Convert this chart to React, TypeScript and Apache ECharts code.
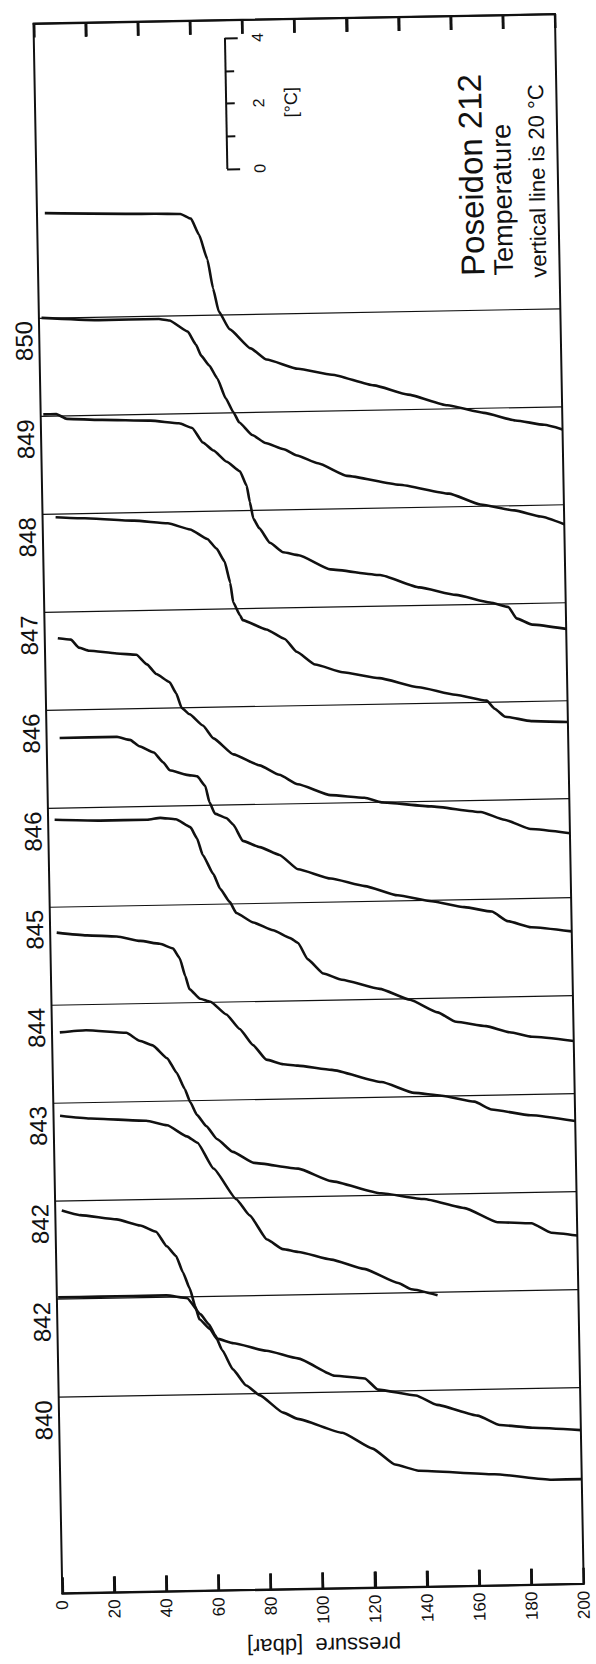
import React, { useEffect, useRef } from "react";
import * as echarts from "echarts";

// Station names, top to bottom as printed on the figure
const STATIONS = ["850", "849", "848", "847", "846", "846", "845", "844", "843", "842", "842", "840"];

// Temperature profiles: pressure [dbar] and temperature [°C]
const p850 = [3, 45, 55, 59, 62, 65, 67, 69, 73, 81, 87, 99, 112, 128, 141, 156, 170, 182, 193, 200];
const t850 = [23.2, 23.12, 23.1, 22.95, 22.45, 21.7, 20.8, 20.1, 19.55, 18.95, 18.6, 18.3, 18.1, 17.75, 17.45, 17.1, 16.85, 16.6, 16.45, 16.3];

const p849 = [1, 23, 46, 50, 57, 60, 62, 65, 68, 71, 74, 76, 81, 86, 93, 98, 106, 117, 137, 156, 168, 181, 191, 200];
const t849 = [23.0, 22.9, 22.9, 22.85, 22.5, 22.1, 21.75, 21.45, 21.05, 20.45, 20.0, 19.7, 19.3, 19.05, 18.85, 18.65, 18.4, 18.0, 17.7, 17.4, 17.05, 16.85, 16.65, 16.4];

const p848 = [1, 6, 10, 23, 42, 53, 58, 62, 66, 71, 76, 78.5, 79.6, 80.8, 83, 87, 92, 98, 110, 129, 144, 158, 171, 178, 181, 187, 200];
const t848 = [23.05, 23.05, 22.9, 22.85, 22.8, 22.7, 22.55, 22.1, 21.85, 21.5, 21.2, 20.75, 20.25, 19.75, 19.45, 19.0, 18.7, 18.6, 18.15, 17.95, 17.55, 17.3, 17.05, 16.9, 16.55, 16.35, 16.2];

const p847 = [5, 16, 35, 48, 56.5, 63, 66.5, 69.5, 71.5, 72.5, 75, 76, 85, 92, 96.5, 103.5, 114, 128, 143, 157, 169, 172, 176, 186, 200];
const t847 = [22.9, 22.85, 22.75, 22.65, 22.45, 22.15, 21.85, 21.45, 20.8, 20.2, 19.8, 19.65, 19.35, 19.05, 18.65, 18.25, 18.0, 17.8, 17.5, 17.25, 17.05, 16.8, 16.55, 16.4, 16.35];

const p846a = [5, 10, 13, 17, 27.5, 35, 39, 42.5, 47.5, 50, 52, 55, 60, 64, 71.5, 81.5, 89, 96, 108.5, 121.5, 128, 147, 166, 175, 185, 200];
const t846a = [22.2, 22.15, 21.9, 21.8, 21.7, 21.65, 21.35, 21.05, 20.8, 20.45, 20.0, 19.8, 19.45, 19.05, 18.55, 18.2, 17.9, 17.6, 17.25, 17.15, 17.0, 16.85, 16.65, 16.4, 16.1, 15.95];

const p846b = [5, 27, 32, 35.5, 41, 44.5, 47, 53.5, 57.5, 60.5, 62, 64, 68.5, 71, 74.5, 81, 88.5, 95.5, 108, 121, 133.5, 146.5, 159, 169.5, 175.5, 184.5, 200];
const t846b = [22.15, 22.15, 22.05, 21.85, 21.65, 21.35, 21.1, 20.95, 20.9, 20.6, 20.1, 19.75, 19.6, 19.4, 18.9, 18.7, 18.45, 18.0, 17.7, 17.45, 17.15, 16.95, 16.75, 16.6, 16.3, 16.1, 15.95];

const p845 = [2.5, 20, 38, 43, 49, 54.5, 57, 59, 63, 65.5, 69, 71.5, 78, 85.5, 92, 95, 98.5, 104.5, 111.5, 126, 137.5, 148, 155, 166.5, 175.5, 184, 200];
const t845 = [22.65, 22.6, 22.6, 22.65, 22.6, 22.35, 22.0, 21.5, 20.9, 20.45, 20.05, 19.7, 19.4, 19.15, 18.9, 18.75, 18.25, 17.8, 17.6, 17.3, 16.95, 16.55, 16.25, 16.1, 15.9, 15.75, 15.6];

const p844 = [2.5, 14, 25.5, 34.5, 42, 47, 49.5, 51.5, 53, 57, 61, 67, 72, 77, 82, 88.5, 94, 107, 126, 138.5, 149, 161.5, 168, 183, 200];
const t844 = [22.2, 22.1, 22.05, 21.9, 21.8, 21.65, 21.35, 20.8, 20.4, 20.1, 20.0, 19.6, 19.15, 18.65, 18.2, 18.05, 18.0, 17.85, 17.45, 17.1, 17.0, 16.8, 16.55, 16.35, 16.15];

const p843 = [3, 13, 28.5, 33.5, 38.5, 44, 47.5, 50.5, 52.5, 55, 58.5, 62.5, 68.5, 76.5, 93.5, 106, 125, 141.5, 157, 169.5, 182.5, 190, 200];
const t843 = [22.15, 22.2, 22.1, 21.85, 21.7, 21.3, 20.85, 20.35, 19.95, 19.55, 19.2, 18.8, 18.4, 18.05, 17.85, 17.45, 17.05, 16.85, 16.55, 16.1, 16.05, 15.75, 15.65];

const p842a = [2.5, 14, 35.5, 43.5, 51, 55, 61, 69.5, 74.5, 81, 87, 93, 105.5, 118, 131, 136, 146];
const t842a = [22.6, 22.5, 22.4, 22.25, 21.9, 21.7, 20.9, 19.95, 19.45, 18.7, 18.4, 18.3, 18.05, 17.75, 17.3, 17.1, 16.9];

const p842b = [2.5, 9.5, 23.5, 32.5, 38.5, 42.5, 46, 48.5, 51, 53, 54.5, 58.5, 61, 67.5, 80, 92, 106, 117.5, 122.5, 137, 145, 160.5, 169, 181.5, 200];
const t842b = [22.7, 22.55, 22.4, 22.2, 22.0, 21.55, 21.25, 20.75, 20.25, 19.7, 19.3, 19.0, 18.7, 18.55, 18.3, 18.05, 17.5, 17.4, 17.05, 16.85, 16.55, 16.2, 15.9, 15.8, 15.7];

const p840 = [0.5, 16.5, 42, 50, 55, 58, 60.5, 63, 67, 72, 77, 86, 91.5, 108.5, 120, 128.5, 137.5, 166.5, 188.5, 200];
const t840 = [23.05, 23.05, 23.05, 22.95, 22.45, 22.15, 21.8, 21.35, 20.75, 20.25, 19.95, 19.4, 19.2, 18.75, 18.25, 17.75, 17.55, 17.4, 17.2, 17.2];

const PRESSURES = [p850, p849, p848, p847, p846a, p846b, p845, p844, p843, p842a, p842b, p840];
const TEMPS = [t850, t849, t848, t847, t846a, t846b, t845, t844, t843, t842a, t842b, t840];

// Pressure axis ticks [dbar]
const PRESSURE_TICKS = [0, 20, 40, 60, 80, 100, 120, 140, 160, 180, 200];

const REF_T = 20; // each reference line is 20 °C
const STEP = 3; // °C between neighbouring reference lines
const SCALE_TICKS = [0, 1, 2, 3, 4];
const SCALE_LABELS = [0, 2, 4];
const TITLE = "Poseidon 212";
const SUBTITLE = "Temperature";
const NOTE = "vertical line is 20 °C";

const FONT = "'Liberation Sans', Arial, Helvetica, sans-serif";
const INK = "#111";
const Y_MIN = -6;
const Y_MAX = 42;

export default function App() {
  const ref = useRef<HTMLDivElement>(null);

  useEffect(() => {
    const el = ref.current;
    if (!el) return;
    const chart = echarts.init(el, null, { renderer: "svg" });
    const n = STATIONS.length;

    const series: any[] = PRESSURES.map((ps, i) => {
      const base = (n - 1 - i) * STEP;
      const ts = TEMPS[i];
      return {
        type: "line",
        name: STATIONS[i],
        data: ps.map((p, j) => [p, ts[j] - REF_T + base]),
        showSymbol: false,
        symbol: "none",
        smooth: 0.15,
        smoothMonotone: "x",
        lineStyle: { color: INK, width: 2.6 },
        z: 3,
        markLine: {
          silent: true,
          symbol: ["none", "none"],
          label: { show: false },
          lineStyle: { color: INK, width: 1.2, type: "solid" },
          data: [{ yAxis: base }],
        },
      };
    });

    // Temperature scale bar (0..4 °C)
    const SB_P = 73.2;
    const SB_BASE = 37.45;
    const sbSegs: any[] = [
      [{ coord: [SB_P, SB_BASE] }, { coord: [SB_P, SB_BASE + 4] }],
      ...SCALE_TICKS.map((t) => {
        const len = t === 0 || t === 4 ? 5 : 3.4;
        return [{ coord: [SB_P, SB_BASE + t] }, { coord: [SB_P + len, SB_BASE + t] }];
      }),
    ];
    series.push({
      type: "line",
      name: "scale",
      data: [[SB_P, SB_BASE]],
      showSymbol: false,
      symbol: "none",
      lineStyle: { width: 0 },
      markLine: {
        silent: true,
        symbol: ["none", "none"],
        label: { show: false },
        lineStyle: { color: INK, width: 2, type: "solid" },
        data: sbSegs,
      },
    });

    const option: any = {
      animation: false,
      backgroundColor: "#fff",
      grid: {
        show: true,
        left: 47.85,
        top: 18.7,
        width: 521.5,
        height: 1570,
        borderColor: INK,
        borderWidth: 2,
        backgroundColor: "transparent",
      },
      xAxis: [
        {
          type: "value",
          position: "bottom",
          min: 0,
          max: 200,
          interval: 20,
          name: "pressure  [dbar]",
          nameLocation: "middle",
          nameRotate: 180,
          nameGap: 46,
          nameTextStyle: { fontFamily: FONT, fontSize: 22, color: INK },
          axisLine: { show: true, onZero: false, lineStyle: { color: INK, width: 2 } },
          axisTick: { show: true, inside: true, length: 16, lineStyle: { color: INK, width: 2.5 } },
          axisLabel: { rotate: 90, fontFamily: FONT, fontSize: 17, color: INK, margin: 7 },
          splitLine: { show: false },
        },
        {
          type: "value",
          position: "top",
          min: 0,
          max: 200,
          interval: 20,
          axisLine: { show: true, onZero: false, lineStyle: { color: INK, width: 2 } },
          axisTick: { show: true, inside: true, length: 14, lineStyle: { color: INK, width: 2.5 } },
          axisLabel: { show: false },
          splitLine: { show: false },
        },
      ],
      yAxis: {
        type: "value",
        min: Y_MIN,
        max: Y_MAX,
        axisLine: { show: false, onZero: false },
        axisTick: { show: false },
        axisLabel: { show: false },
        splitLine: { show: false },
      },
      series,
    };
    chart.setOption(option);

    const toPx = (p: number, v: number) => chart.convertToPixel({ seriesIndex: 0 }, [p, v]) as number[];
    const graphics: any[] = [];

    // inward ticks on the bottom and top frame edges
    PRESSURE_TICKS.filter((p) => p > 0 && p < 200).forEach((p) => {
      const [xb, yb] = toPx(p, Y_MIN);
      const [xt, yt] = toPx(p, Y_MAX);
      graphics.push({
        type: "line",
        z: 50,
        silent: true,
        shape: { x1: xb, y1: yb, x2: xb, y2: yb - 16 },
        style: { stroke: INK, lineWidth: 2.5 },
      });
      graphics.push({
        type: "line",
        z: 50,
        silent: true,
        shape: { x1: xt, y1: yt, x2: xt, y2: yt + 14 },
        style: { stroke: INK, lineWidth: 2.5 },
      });
    });

    STATIONS.forEach((name, i) => {
      const base = (n - 1 - i) * STEP;
      const [x, y] = toPx(0, base - 0.7);
      graphics.push({
        type: "text",
        x: x - 15.5,
        y,
        rotation: Math.PI / 2,
        style: { text: name, font: `24px ${FONT}`, fill: INK, align: "center", verticalAlign: "middle", textAlign: "center", textVerticalAlign: "middle" },
      });
    });
    SCALE_LABELS.forEach((t) => {
      const [x, y] = toPx(SB_P + 12.6, SB_BASE + t);
      graphics.push({
        type: "text",
        x,
        y,
        rotation: Math.PI / 2,
        style: { text: String(t), font: `16px ${FONT}`, fill: INK, align: "center", verticalAlign: "middle", textAlign: "center", textVerticalAlign: "middle" },
      });
    });
    {
      const [x, y] = toPx(SB_P + 25, SB_BASE + 2);
      graphics.push({
        type: "text",
        x,
        y,
        rotation: Math.PI / 2,
        style: { text: "[°C]", font: `18px ${FONT}`, fill: INK, align: "center", verticalAlign: "middle", textAlign: "center", textVerticalAlign: "middle" },
      });
    }
    const titles: [string, number, number, number][] = [
      [TITLE, 482.6, 279, 33],
      [SUBTITLE, 513.6, 279, 27],
      [NOTE, 548.6, 282, 22],
    ];
    titles.forEach(([text, x, y, fs]) => {
      graphics.push({
        type: "text",
        x,
        y,
        rotation: Math.PI / 2,
        style: { text, font: `${fs}px ${FONT}`, fill: INK, align: "left", verticalAlign: "middle", textAlign: "left", textVerticalAlign: "middle" },
      });
    });
    chart.setOption({ graphic: graphics });

    return () => chart.dispose();
  }, []);

  return (
    <div
      ref={ref}
      style={{
        position: "absolute",
        left: 0,
        top: 0,
        width: 596,
        height: 1664,
        background: "#fff",
        transform: "rotate(-1.05deg)",
        transformOrigin: "308.6px 803.7px",
      }}
    />
  );
}
